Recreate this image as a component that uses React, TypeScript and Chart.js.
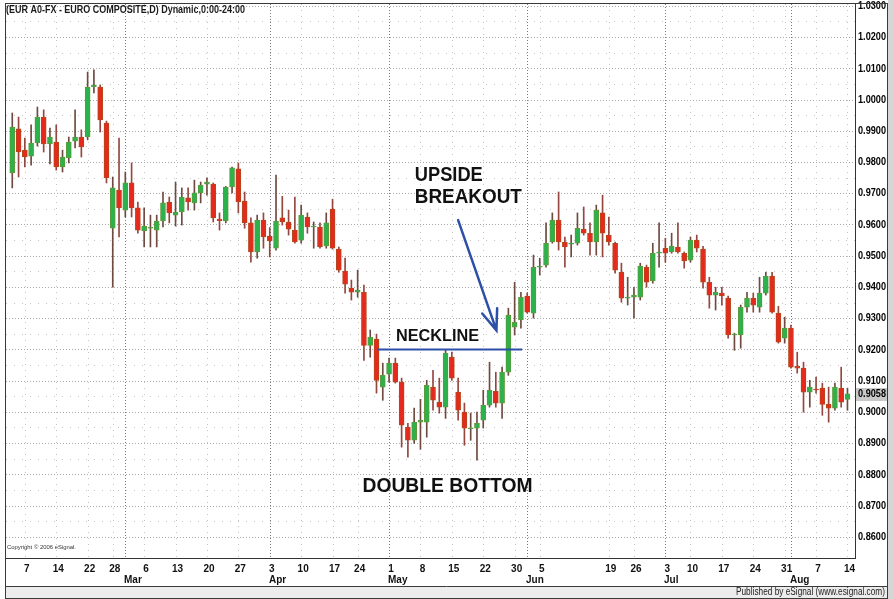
import React, { useEffect, useRef } from "react";
import { Chart, registerables } from "chart.js";

Chart.register(...registerables);

// ---- DATA ----
const opens = [
  0.9765, 0.9906, 0.9838, 0.9819, 0.9861, 0.9944, 0.9858, 0.9864, 0.9784, 0.9813,
  0.9867, 0.9880, 0.9880, 1.0041, 1.0040, 0.9925, 0.9588, 0.9710, 0.9646, 0.9733,
  0.9653, 0.9579, 0.9588, 0.9582, 0.9611, 0.9672, 0.9630, 0.9640, 0.9685, 0.9669,
  0.9701, 0.9729, 0.9729, 0.9617, 0.9611, 0.9720, 0.9778, 0.9675, 0.9605, 0.9512,
  0.9614, 0.9563, 0.9524, 0.9621, 0.9608, 0.9582, 0.9550, 0.9624, 0.9592, 0.9592,
  0.9531, 0.9649, 0.9521, 0.9451, 0.9396, 0.9383, 0.9383, 0.9213, 0.9233, 0.9079,
  0.9121, 0.9156, 0.9095, 0.8951, 0.8909, 0.8967, 0.8967, 0.9079, 0.9031, 0.9015,
  0.9175, 0.9063, 0.8999, 0.8946, 0.8948, 0.8973, 0.9021, 0.9066, 0.9028, 0.9127,
  0.9271, 0.9294, 0.9371, 0.9316, 0.9463, 0.9470, 0.9544, 0.9614, 0.9544, 0.9537,
  0.9540, 0.9585, 0.9572, 0.9544, 0.9637, 0.9566, 0.9540, 0.9447, 0.9364, 0.9367,
  0.9367, 0.9463, 0.9419, 0.9508, 0.9524, 0.9512, 0.9528, 0.9508, 0.9486, 0.9550,
  0.9521, 0.9415, 0.9374, 0.9380, 0.9364, 0.9246, 0.9246, 0.9335, 0.9364, 0.9335,
  0.9380, 0.9435, 0.9316, 0.9236, 0.9268, 0.9146, 0.9140, 0.9063, 0.9073, 0.9076,
  0.9024, 0.9012, 0.9076, 0.9040,
];
const highs = [
  0.9957, 0.9944, 0.9877, 0.9919, 0.9976, 0.9967, 0.9909, 0.9919, 0.9838, 0.9880,
  0.9967, 0.9903, 1.0088, 1.0095, 1.0047, 0.9931, 0.9752, 0.9877, 0.9768, 0.9797,
  0.9672, 0.9653, 0.9630, 0.9630, 0.9704, 0.9688, 0.9736, 0.9717, 0.9717, 0.9742,
  0.9736, 0.9749, 0.9733, 0.9637, 0.9722, 0.9784, 0.9797, 0.9704, 0.9621, 0.9630,
  0.9637, 0.9590, 0.9758, 0.9690, 0.9646, 0.9688, 0.9662, 0.9637, 0.9608, 0.9605,
  0.9637, 0.9681, 0.9528, 0.9492, 0.9422, 0.9454, 0.9406, 0.9262, 0.9249, 0.9156,
  0.9172, 0.9172, 0.9108, 0.8963, 0.9012, 0.9040, 0.9101, 0.9133, 0.9108, 0.9197,
  0.9191, 0.9108, 0.9028, 0.8996, 0.8999, 0.9069, 0.9159, 0.9127, 0.9143, 0.9332,
  0.9415, 0.9383, 0.9380, 0.9502, 0.9492, 0.9605, 0.9637, 0.9704, 0.9560, 0.9566,
  0.9637, 0.9656, 0.9605, 0.9662, 0.9694, 0.9624, 0.9544, 0.9476, 0.9431, 0.9399,
  0.9476, 0.9470, 0.9540, 0.9605, 0.9556, 0.9572, 0.9605, 0.9512, 0.9560, 0.9566,
  0.9530, 0.9431, 0.9399, 0.9399, 0.9371, 0.9252, 0.9342, 0.9383, 0.9380, 0.9431,
  0.9447, 0.9447, 0.9338, 0.9303, 0.9278, 0.9191, 0.9159, 0.9101, 0.9111, 0.9092,
  0.9079, 0.9092, 0.9143, 0.9076,
];
const lows = [
  0.9717, 0.9752, 0.9784, 0.9790, 0.9851, 0.9832, 0.9794, 0.9774, 0.9768, 0.9797,
  0.9845, 0.9816, 0.9871, 1.0021, 0.9896, 0.9733, 0.9399, 0.9560, 0.9624, 0.9624,
  0.9572, 0.9528, 0.9528, 0.9528, 0.9592, 0.9605, 0.9595, 0.9598, 0.9646, 0.9646,
  0.9669, 0.9694, 0.9608, 0.9582, 0.9605, 0.9701, 0.9637, 0.9588, 0.9479, 0.9492,
  0.9524, 0.9496, 0.9518, 0.9598, 0.9566, 0.9540, 0.9540, 0.9572, 0.9524, 0.9524,
  0.9524, 0.9521, 0.9447, 0.9380, 0.9358, 0.9367, 0.9165, 0.9175, 0.9060, 0.9037,
  0.9095, 0.9092, 0.8887, 0.8855, 0.8899, 0.8880, 0.8919, 0.9005, 0.8996, 0.8979,
  0.9101, 0.8973, 0.8893, 0.8909, 0.8845, 0.8948, 0.9015, 0.9015, 0.8979, 0.9117,
  0.9246, 0.9268, 0.9316, 0.9300, 0.9438, 0.9463, 0.9540, 0.9518, 0.9463, 0.9496,
  0.9534, 0.9566, 0.9502, 0.9502, 0.9496, 0.9534, 0.9444, 0.9351, 0.9342, 0.9300,
  0.9358, 0.9399, 0.9412, 0.9463, 0.9479, 0.9508, 0.9508, 0.9460, 0.9479, 0.9512,
  0.9396, 0.9332, 0.9326, 0.9342, 0.9236, 0.9197, 0.9204, 0.9319, 0.9319, 0.9319,
  0.9374, 0.9316, 0.9220, 0.9220, 0.9140, 0.9124, 0.8999, 0.9015, 0.9060, 0.8989,
  0.8967, 0.9005, 0.9015, 0.9005,
];
const closes = [
  0.9912, 0.9832, 0.9816, 0.9861, 0.9944, 0.9858, 0.9880, 0.9784, 0.9816, 0.9864,
  0.9880, 0.9848, 1.0040, 1.0047, 0.9935, 0.9749, 0.9717, 0.9653, 0.9733, 0.9653,
  0.9582, 0.9595, 0.9591, 0.9611, 0.9669, 0.9637, 0.9640, 0.9688, 0.9672, 0.9701,
  0.9726, 0.9736, 0.9621, 0.9612, 0.9720, 0.9781, 0.9672, 0.9605, 0.9512, 0.9614,
  0.9560, 0.9547, 0.9611, 0.9608, 0.9585, 0.9544, 0.9630, 0.9592, 0.9595, 0.9528,
  0.9605, 0.9524, 0.9454, 0.9409, 0.9383, 0.9390, 0.9213, 0.9239, 0.9101, 0.9117,
  0.9156, 0.9095, 0.8957, 0.8909, 0.8967, 0.8973, 0.9085, 0.9037, 0.9015, 0.9188,
  0.9108, 0.9005, 0.8948, 0.8948, 0.8963, 0.9021, 0.9069, 0.9028, 0.9127, 0.9310,
  0.9287, 0.9367, 0.9319, 0.9463, 0.9467, 0.9540, 0.9614, 0.9544, 0.9528, 0.9540,
  0.9588, 0.9572, 0.9544, 0.9646, 0.9572, 0.9544, 0.9454, 0.9364, 0.9367, 0.9374,
  0.9467, 0.9415, 0.9508, 0.9512, 0.9508, 0.9531, 0.9512, 0.9483, 0.9550, 0.9524,
  0.9415, 0.9374, 0.9383, 0.9371, 0.9246, 0.9249, 0.9335, 0.9364, 0.9342, 0.9380,
  0.9435, 0.9319, 0.9223, 0.9268, 0.9143, 0.9140, 0.9063, 0.9079, 0.9070, 0.9024,
  0.9012, 0.9079, 0.9031, 0.9058,
];

const dayTickIndex = [2, 7, 12, 16, 21, 26, 31, 36, 41, 46, 51, 55, 60, 65, 70, 75, 80, 84, 95, 99, 104, 108, 113, 118, 123, 128, 133];
const dayTickLabels = ["7", "14", "22", "28", "6", "13", "20", "27", "3", "10", "17", "24", "1", "8", "15", "22", "30", "5", "19", "26", "3", "10", "17", "24", "31", "7", "14"];
const monthStartIndex = [18, 41, 60, 82, 104, 124];
const monthLabels = ["Mar", "Apr", "May", "Jun", "Jul", "Aug"];
const priceTicks = [0.86, 0.87, 0.88, 0.89, 0.9, 0.91, 0.92, 0.93, 0.94, 0.95, 0.96, 0.97, 0.98, 0.99, 1.0, 1.01, 1.02, 1.03];

const titleText = "(EUR A0-FX - EURO COMPOSITE,D) Dynamic,0:00-24:00";
const copyrightText = "Copyright \u00A9 2006 eSignal.";
const publishedText = "Published by eSignal (www.esignal.com)";

// annotation anchors in data units (index, price)
const necklinePrice = 0.92;
const necklineRange = [58.2, 81.2];
const arrowFrom = [71.0, 0.9614];
const arrowTo = [77.1, 0.9261];
const annotationTexts = [
  { text: "UPSIDE", at: [64.1, 0.9758] },
  { text: "BREAKOUT", at: [64.1, 0.9686] },
  { text: "NECKLINE", at: [61.1, 0.9241] },
  { text: "DOUBLE BOTTOM", at: [69.3, 0.8762] },
];

// ---- styles ----
const FONT = "'Liberation Sans', Arial, sans-serif";
const GREEN = "#2bb24c";
const GREEN_EDGE = "#5e9a3c";
const RED = "#e5291d";
const RED_EDGE = "#b5471c";
const WICK_RED = "#94463f";
const WICK_GREEN = "#6e4a40";
const BLUE = "#2d4fa8";
const annotationStyle: Record<string, { font: string; width: number; align: CanvasTextAlign }> = {
  UPSIDE: { font: `bold 20px ${FONT}`, width: 68, align: "left" },
  BREAKOUT: { font: `bold 20px ${FONT}`, width: 107, align: "left" },
  NECKLINE: { font: `bold 16px ${FONT}`, width: 83, align: "left" },
  "DOUBLE BOTTOM": { font: `bold 21px ${FONT}`, width: 170, align: "center" },
};

function fitText(ctx: CanvasRenderingContext2D, text: string, x: number, y: number, width: number, align: CanvasTextAlign) {
  const w = ctx.measureText(text).width;
  const s = w > 0 ? width / w : 1;
  ctx.save();
  ctx.translate(x, y);
  ctx.scale(s, 1);
  ctx.textAlign = align;
  ctx.fillText(text, 0, 0);
  ctx.restore();
}

const decorPlugin = {
  id: "decor",
  beforeDraw(chart: any) {
    const { ctx, width, height } = chart;
    ctx.save();
    ctx.fillStyle = "#ffffff";
    ctx.fillRect(0, 0, width, height);
    ctx.fillStyle = "#d6d6d6";
    ctx.fillRect(888, 0, width - 888, height);
    ctx.fillStyle = "#ececec";
    ctx.fillRect(5, 587, 883, 11);
    ctx.restore();
  },
  beforeDatasetsDraw(chart: any) {
    const { ctx, chartArea: a, scales } = chart;
    const xs = scales.x;
    const ys = scales.y;
    ctx.save();
    ctx.beginPath();
    ctx.rect(a.left, a.top, a.right - a.left, a.bottom - a.top);
    ctx.clip();
    ctx.lineWidth = 1;
    ctx.strokeStyle = "#c6c6c6";
    ctx.setLineDash([1, 7]);
    for (let i = 0; i < priceTicks.length - 1; i++) {
      const y = Math.round(ys.getPixelForValue((priceTicks[i] + priceTicks[i + 1]) / 2)) + 0.5;
      ctx.beginPath();
      ctx.moveTo(a.left, y);
      ctx.lineTo(a.right, y);
      ctx.stroke();
    }
    ctx.strokeStyle = "#a8a8a8";
    ctx.setLineDash([1, 2]);
    for (const p of priceTicks) {
      const y = Math.round(ys.getPixelForValue(p)) + 0.5;
      ctx.beginPath();
      ctx.moveTo(a.left, y);
      ctx.lineTo(a.right, y);
      ctx.stroke();
    }
    ctx.strokeStyle = "#c4c4c4";
    ctx.setLineDash([1, 5]);
    for (const idx of dayTickIndex) {
      const x = Math.round(xs.getPixelForValue(idx)) + 0.5;
      ctx.beginPath();
      ctx.moveTo(x, a.top);
      ctx.lineTo(x, a.bottom);
      ctx.stroke();
    }
    ctx.strokeStyle = "#7a7a7a";
    ctx.setLineDash([1, 2]);
    for (const idx of monthStartIndex) {
      const x = Math.round(xs.getPixelForValue(idx)) + 0.5;
      ctx.beginPath();
      ctx.moveTo(x, a.top);
      ctx.lineTo(x, a.bottom);
      ctx.stroke();
    }
    ctx.restore();
  },
  afterDatasetsDraw(chart: any) {
    const { ctx, scales } = chart;
    const xs = scales.x;
    const ys = scales.y;
    ctx.save();
    ctx.strokeStyle = BLUE;
    ctx.lineWidth = 2;
    const ny = ys.getPixelForValue(necklinePrice);
    ctx.beginPath();
    ctx.moveTo(xs.getPixelForValue(necklineRange[0]), ny);
    ctx.lineTo(xs.getPixelForValue(necklineRange[1]), ny);
    ctx.stroke();
    const x1 = xs.getPixelForValue(arrowFrom[0]);
    const y1 = ys.getPixelForValue(arrowFrom[1]);
    const x2 = xs.getPixelForValue(arrowTo[0]);
    const y2 = ys.getPixelForValue(arrowTo[1]);
    ctx.lineWidth = 2.5;
    ctx.lineCap = "round";
    ctx.beginPath();
    ctx.moveTo(x1, y1);
    ctx.lineTo(x2, y2);
    const back = Math.atan2(y1 - y2, x1 - x2);
    const half = (21 * Math.PI) / 180;
    const len = 22;
    ctx.moveTo(x2 + len * Math.cos(back - half), y2 + len * Math.sin(back - half));
    ctx.lineTo(x2, y2);
    ctx.lineTo(x2 + len * Math.cos(back + half), y2 + len * Math.sin(back + half));
    ctx.stroke();
    ctx.fillStyle = "#111111";
    ctx.textBaseline = "middle";
    for (const t of annotationTexts) {
      const st = annotationStyle[t.text];
      ctx.font = st.font;
      fitText(ctx, t.text, xs.getPixelForValue(t.at[0]), ys.getPixelForValue(t.at[1]), st.width, st.align);
    }
    ctx.fillStyle = "#1a1a1a";
    ctx.font = `bold 11px ${FONT}`;
    fitText(ctx, titleText, 6, 9.5, 239, "left");
    ctx.font = `6px ${FONT}`;
    ctx.fillStyle = "#333333";
    fitText(ctx, copyrightText, 7, 547, 69, "left");
    ctx.restore();
  },
  afterDraw(chart: any) {
    const { ctx, scales, chartArea: a } = chart;
    const xs = scales.x;
    const ys = scales.y;
    ctx.save();
    ctx.fillStyle = "#111111";
    ctx.font = `bold 10px ${FONT}`;
    ctx.textBaseline = "middle";
    ctx.textAlign = "left";
    monthStartIndex.forEach((idx, k) => {
      ctx.fillText(monthLabels[k], Math.round(xs.getPixelForValue(idx)) - 1, 580);
    });
    // price labels on the right axis
    ctx.fillStyle = "#000000";
    ctx.font = `bold 10px ${FONT}`;
    for (const p of priceTicks) {
      fitText(ctx, p.toFixed(4), 858, ys.getPixelForValue(p) + 0.5, 28, "left");
    }
    const last = closes[closes.length - 1];
    const ly = ys.getPixelForValue(last);
    ctx.fillStyle = "#c8c8c8";
    ctx.fillRect(856, Math.round(ly) - 6, 31, 13);
    ctx.fillStyle = "#000000";
    fitText(ctx, last.toFixed(4), 858, ly + 0.5, 28, "left");
    ctx.strokeStyle = "#3a3a3a";
    ctx.lineWidth = 1;
    ctx.strokeRect(5.5, 3.5, 882, 595);
    ctx.beginPath();
    ctx.moveTo(5, 586.5);
    ctx.lineTo(888, 586.5);
    ctx.moveTo(a.left, 3.5);
    ctx.lineTo(888, 3.5);
    ctx.stroke();
    ctx.fillStyle = "#222222";
    ctx.font = `10px ${FONT}`;
    fitText(ctx, publishedText, 885, 592.5, 149, "right");
    ctx.restore();
  },
};

export default function App() {
  const canvasRef = useRef<HTMLCanvasElement | null>(null);

  useEffect(() => {
    if (!canvasRef.current) return;
    const up = opens.map((o, i) => closes[i] >= o);
    const chart = new Chart(canvasRef.current, {
      type: "bar",
      data: {
        datasets: [
          {
            label: "body",
            data: opens.map((o, i) => ({ x: i, y: [o, closes[i]] })) as any,
            backgroundColor: up.map((u) => (u ? GREEN : RED)),
            borderColor: up.map((u) => (u ? GREEN_EDGE : RED_EDGE)),
            borderWidth: 1,
            borderSkipped: false,
            barThickness: 5,
            minBarLength: 1,
            grouped: false,
            order: 1,
          } as any,
          {
            label: "wick",
            data: lows.map((l, i) => ({ x: i, y: [l, highs[i]] })) as any,
            backgroundColor: up.map((u) => (u ? WICK_GREEN : WICK_RED)),
            borderWidth: 0,
            barThickness: 1,
            grouped: false,
            order: 2,
          } as any,
        ],
      },
      options: {
        animation: false,
        responsive: false,
        maintainAspectRatio: false,
        events: [],
        layout: { padding: { left: 6, top: 4, right: 0, bottom: 0 } },
        plugins: { legend: { display: false }, tooltip: { enabled: false }, title: { display: false } },
        scales: {
          x: {
            type: "linear",
            min: -1,
            max: 134.2,
            offset: false,
            grid: { display: false, drawTicks: false },
            border: { display: true, color: "#333333", width: 1 },
            afterBuildTicks: (scale: any) => {
              scale.ticks = dayTickIndex.map((v) => ({ value: v }));
            },
            afterFit: (scale: any) => {
              scale.height = 41;
            },
            ticks: {
              autoSkip: false,
              maxRotation: 0,
              minRotation: 0,
              padding: 5,
              labelOffset: 2,
              color: "#111111",
              font: { family: FONT, size: 10, weight: "bold" },
              callback: (_v: any, idx: number) => dayTickLabels[idx],
            },
          },
          y: {
            type: "linear",
            position: "right",
            min: 0.8532,
            max: 1.0306,
            grid: { display: false, drawTicks: false },
            border: { display: true, color: "#333333", width: 1 },
            afterBuildTicks: (scale: any) => {
              scale.ticks = priceTicks.map((v) => ({ value: v }));
            },
            afterFit: (scale: any) => {
              scale.width = 38;
            },
            ticks: {
              display: false,
              autoSkip: false,
            },
          },
        },
      } as any,
      plugins: [decorPlugin as any],
    });
    return () => chart.destroy();
  }, []);

  return (
    <div style={{ position: "fixed", left: 0, top: 0, width: 893, height: 599, background: "#fff" }}>
      <canvas ref={canvasRef} width={893} height={599} style={{ display: "block", width: 893, height: 599 }} />
    </div>
  );
}
